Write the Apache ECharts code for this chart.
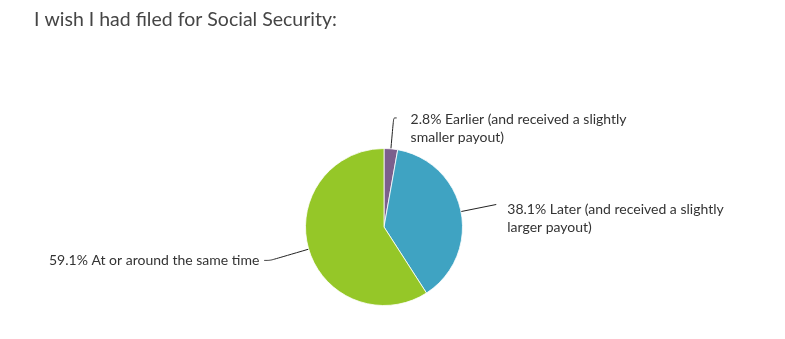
<!DOCTYPE html>
<html><head><meta charset="utf-8">
<script src="https://cdn.jsdelivr.net/npm/echarts@6/dist/echarts.min.js"></script>
<style>html,body{margin:0;padding:0;background:#fff}#c{width:785px;height:339px}</style>
</head><body><div id="c"></div>
<script>
const titleText = "I wish I had filed for Social Security:";
const categories = ["Earlier (and received a slightly smaller payout)", "Later (and received a slightly larger payout)", "At or around the same time"];
const values = [2.8, 38.1, 59.1];
const colors = ["#7b5f8d", "#3fa3c2", "#95c728"];

// per-slice label line tuning (styles, not data)
const lineCfg = [
  {length: 31, length2: 3, dist: 14, dy: 11},
  {length: 36, length2: 0, dist: 11, dy: 14},
  {length: 40, length2: 6, dist: 5, dy: 0}
];

const chart = echarts.init(document.getElementById('c'), null, {renderer: 'canvas'});
const data = categories.map((name, i) => ({
  name: name,
  value: values[i],
  itemStyle: {color: colors[i]},
  label: {distanceToLabelLine: lineCfg[i].dist},
  labelLine: {length: lineCfg[i].length, length2: lineCfg[i].length2}
}));

chart.setOption({
  animation: false,
  title: {
    text: titleText, left: 29, top: 5,
    textStyle: {fontFamily: 'Lato', fontSize: 19.5, fontWeight: 'normal', color: '#454545'}
  },
  series: [{
    type: 'pie',
    center: [384, 227],
    radius: 78.5,
    startAngle: 90,
    clockwise: true,
    avoidLabelOverlap: false,
    itemStyle: {borderColor: '#ffffff', borderWidth: 0.8},
    label: {
      show: true,
      position: 'outside',
      formatter: p => p.value + '% ' + p.name,
      fontFamily: 'Lato', fontSize: 14, color: '#333333', lineHeight: 18,
      width: 235, overflow: 'break'
    },
    labelLine: {show: true, smooth: 0.3, lineStyle: {color: '#222', width: 1}},
    labelLayout: p => ({dy: lineCfg[p.dataIndex].dy}),
    emphasis: {disabled: true},
    data: data
  }]
});
</script></body></html>
